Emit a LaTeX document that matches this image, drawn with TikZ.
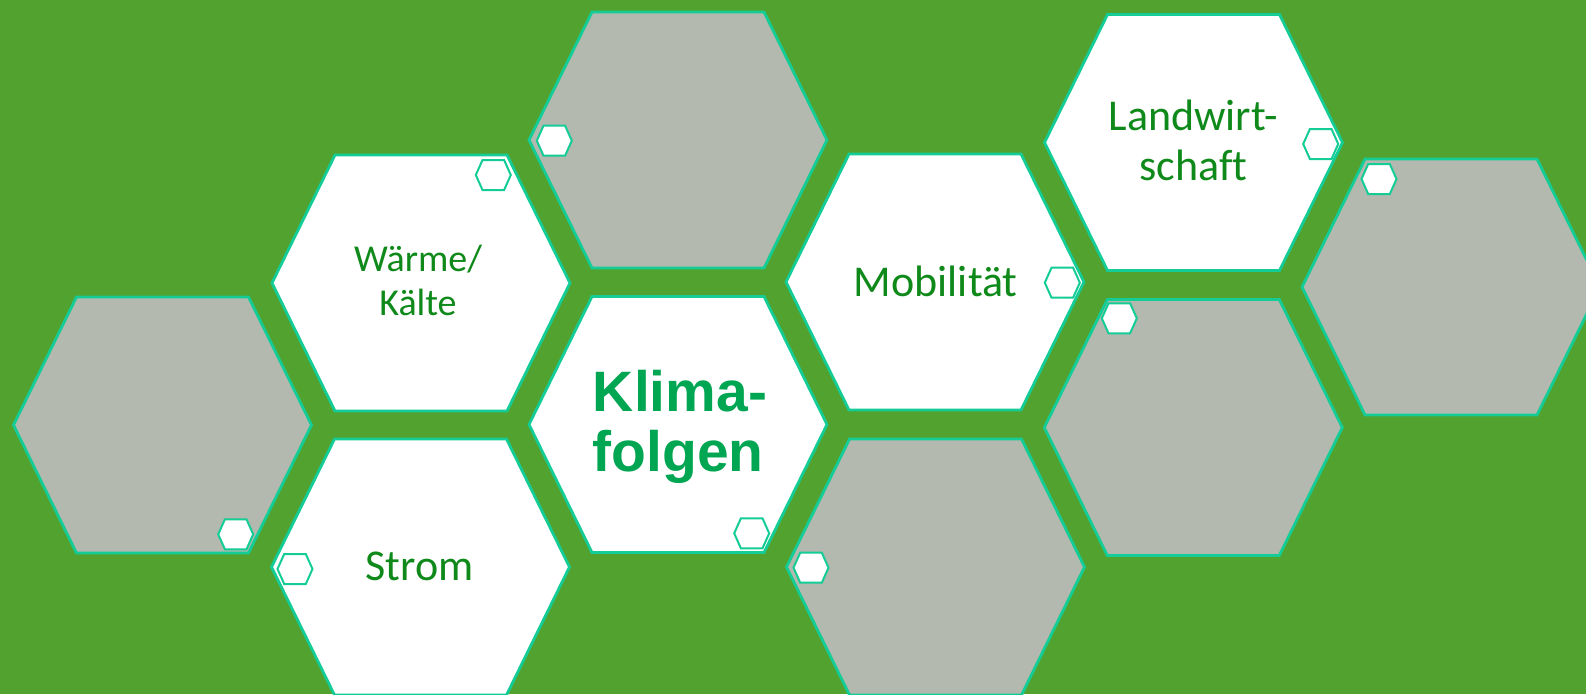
\documentclass[tikz,border=0pt]{standalone}
\usepackage{fontspec}
\setmainfont[Ligatures=NoCommon]{Carlito}
\newfontfamily\klimafont{Liberation Sans}
\definecolor{bggreen}{HTML}{52A22F}
\definecolor{hexgray}{HTML}{B3B9AF}
\definecolor{hexline}{HTML}{14CC96}
\definecolor{txtgreen}{HTML}{0F8A1A}
\definecolor{klimagreen}{HTML}{00A651}
\tikzset{
  bighex/.pic={\path[pic actions] (-149,0) -- (-86,-128) -- (86,-128) -- (149,0) -- (86,128) -- (-86,128) -- cycle;},
  smallhex/.pic={\path[pic actions] (-17.5,0) -- (-10.8,-15) -- (10.8,-15) -- (17.5,0) -- (10.8,15) -- (-10.8,15) -- cycle;},
  grayhex/.style={draw=hexline, line width=2.8pt, fill=hexgray, line join=miter},
  whitehex/.style={draw=hexline, line width=2.8pt, fill=white, line join=miter},
  tinyhex/.style={draw=hexline, line width=2pt, fill=white},
  lbl/.style={text=txtgreen, anchor=base, inner sep=0pt, font=\fontsize{44}{44}\selectfont},
  lblsmall/.style={text=txtgreen, anchor=base, inner sep=0pt, font=\fontsize{38}{38}\selectfont},
  klbl/.style={text=klimagreen, anchor=base, inner sep=0pt, font=\klimafont\bfseries\fontsize{57}{57}\selectfont},
}
\begin{document}
\begin{tikzpicture}[x=1pt,y=-1pt]
\useasboundingbox (0,0) rectangle (1586,694);
\fill[bggreen] (0,0) rectangle (1586,694);
% centres
\coordinate (c1) at (162.5,425);
\coordinate (c2) at (421,283);
\coordinate (c3) at (678,140);
\coordinate (c4) at (678,424.5);
\coordinate (c5) at (420.5,567);
\coordinate (c6) at (935,282);
\coordinate (c7) at (935.5,567);
\coordinate (c8) at (1193.5,142.5);
\coordinate (c9) at (1193.3,427.5);
\coordinate (c10) at (1451,287);
\begin{scope}
\clip (0,0) rectangle (1586,694);
\pic[grayhex] (h1) at (c1) {bighex};
\pic[whitehex] (h2) at (c2) {bighex};
\pic[grayhex] (h3) at (c3) {bighex};
\pic[whitehex] (h4) at (c4) {bighex};
\pic[whitehex] (h5) at (c5) {bighex};
\pic[whitehex] (h6) at (c6) {bighex};
\pic[grayhex] (h7) at (c7) {bighex};
\pic[whitehex] (h8) at (c8) {bighex};
\pic[grayhex] (h9) at (c9) {bighex};
\pic[grayhex] (h10) at (c10) {bighex};
% small hexagons
\pic[tinyhex] (s1) at (235.7,534.3) {smallhex};
\pic[tinyhex] (s2) at (493.3,175) {smallhex};
\pic[tinyhex] (s3) at (554.3,140.7) {smallhex};
\pic[tinyhex] (s4) at (751.7,533.3) {smallhex};
\pic[tinyhex] (s5) at (295,569) {smallhex};
\pic[tinyhex] (s6) at (1062.3,282.7) {smallhex};
\pic[tinyhex] (s7) at (811,567.7) {smallhex};
\pic[tinyhex] (s8) at (1320.7,144) {smallhex};
\pic[tinyhex] (s9) at (1119.3,318.3) {smallhex};
\pic[tinyhex] (s10) at (1379,179) {smallhex};
\end{scope}
% labels
\node[lblsmall] (t2a) at (418,271.7) {Wärme/};
\node[lblsmall] (t2b) at (418,315.7) {Kälte};
\node[klbl] (t4a) at (680,411.7) {Klima-};
\node[klbl] (t4b) at (678,471.7) {folgen};
\node[lbl] (t5) at (419.7,580.5) {Strom};
\node[lbl] (t6) at (935.8,296) {Mobilität};
\node[lbl] (t8a) at (1193.3,130) {Landwirt-};
\node[lbl] (t8b) at (1193.3,180) {schaft};
\end{tikzpicture}
\end{document}
